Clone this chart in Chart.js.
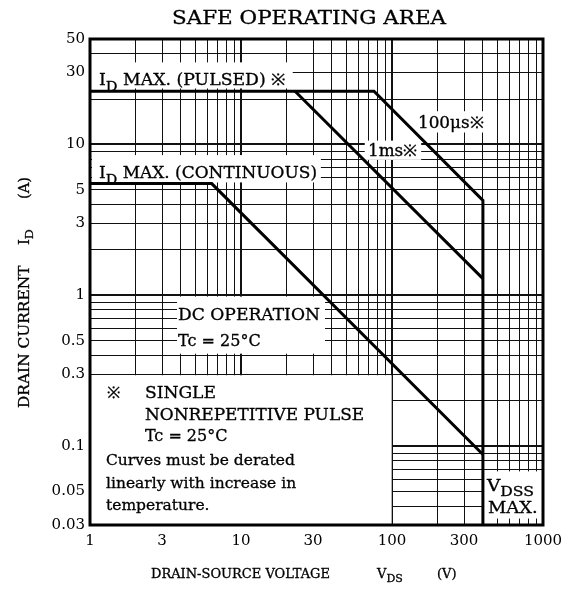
<!DOCTYPE html>
<html>
<head>
<meta charset="utf-8">
<script src="https://cdn.jsdelivr.net/npm/chart.js@4"></script>
<style>
  body { margin: 0; background: #fff; }
  canvas { display: block; }
</style>
</head>
<body>
<canvas id="soa" width="562" height="589"></canvas>
<script>
// safe operating area, log-log
const xTicks = [1, 3, 10, 30, 100, 300, 1000];
const yTicks = [0.03, 0.05, 0.1, 0.3, 0.5, 1, 3, 5, 10, 30, 50];

// 100us pulse (incl. ID max pulsed and VDSS max)
const pulseV = [1, 76, 400, 400];
const pulseI = [22.5, 22.5, 4.26, 0.03];
// 1ms pulse
const ms1V = [22.8, 400];
const ms1I = [22.5, 1.29];
// DC operation (incl. ID max continuous)
const dcV = [1, 6.4, 400];
const dcI = [5.5, 5.5, 0.088];

const FONT = '"DejaVu Serif", serif';

// white label boxes that blank the grid: [vMin, vMax, iMin, iMax]
const boxes = [
  [1, 22, 23.5, 35],
  [1.03, 33.8, 5.6, 8.5],
  [66, 156, 7.9, 10.6],
  [140, 426, 12, 16.6],
  [3.77, 36, 0.41, 0.98],
  [1, 99.5, 0.03, 0.295],
  [400, 1000, 0.0331, 0.068]
];

// label text: [v, i, parts, size, stretch] ; parts = [text, isSubscript]
const labels = [
  [1.147, 24.6, [['I', 0], ['D', 1], [' MAX. (PULSED) ※', 0]], 16, 1.08],
  [1.147, 5.95, [['I', 0], ['D', 1], [' MAX. (CONTINUOUS)', 0]], 16, 1.06],
  [148.6, 12.8, [['100μs※', 0]], 16, 1.05],
  [69.3, 8.33, [['1ms※', 0]], 16, 1.05],
  [3.83, 0.683, [['DC OPERATION', 0]], 16, 1.07],
  [3.83, 0.459, [['Tc = 25°C', 0]], 16, 1],
  [1.296, 0.208, [['※', 0]], 16, 1],
  [2.31, 0.208, [['SINGLE', 0]], 16, 1.07],
  [2.31, 0.1486, [['NONREPETITIVE PULSE', 0]], 16, 1.06],
  [2.31, 0.108, [['Tc = 25°C', 0]], 16, 1],
  [1.276, 0.0748, [['Curves must be derated', 0]], 15.5, 1],
  [1.276, 0.0527, [['linearly with increase in', 0]], 15.5, 1],
  [1.276, 0.0377, [['temperature.', 0]], 15.5, 1],
  [426, 0.0503, [['V', 0], ['DSS', 1]], 16, 1.15],
  [432, 0.036, [['MAX.', 0]], 16, 1.12]
];

function gridVals(lo, hi) {
  const out = [];
  for (let e = -3; e <= 4; e++) {
    for (let m = 1; m <= 9; m++) {
      const v = Number((m * Math.pow(10, e)).toPrecision(6));
      if (v >= lo - 1e-9 && v <= hi + 1e-9) out.push(v);
    }
  }
  return out;
}
const has = (arr, v) => arr.some(t => Math.abs(t - v) / t < 1e-6);
const isDecade = v => Math.abs(Math.log10(v) - Math.round(Math.log10(v))) < 1e-6;

function pts(xs, ys) { return xs.map((x, i) => ({ x: x, y: ys[i] })); }

// draw text pieces with subscripts, optional horizontal stretch
function richText(ctx, x, y, parts, size, stretch) {
  stretch = stretch || 1;
  ctx.save();
  ctx.translate(x, y);
  ctx.scale(stretch, 1);
  ctx.lineWidth = 0.3;
  ctx.strokeStyle = ctx.fillStyle;
  let cx = 0;
  parts.forEach(([t, sub]) => {
    ctx.font = (sub ? size * 0.85 : size) + 'px ' + FONT;
    const dy = sub ? size * 0.32 : 0;
    ctx.fillText(t, cx, dy);
    ctx.strokeText(t, cx, dy);
    cx += ctx.measureText(t).width;
  });
  ctx.restore();
}

const soaPlugin = {
  id: 'soa',
  beforeDatasetsDraw(chart) {
    const { ctx, scales: { x, y } } = chart;
    ctx.save();
    ctx.fillStyle = '#fff';
    boxes.forEach(([v0, v1, i0, i1]) => {
      const l = x.getPixelForValue(v0), r = x.getPixelForValue(v1);
      const t = y.getPixelForValue(i1), b = y.getPixelForValue(i0);
      ctx.fillRect(l, t, r - l, b - t);
    });
    ctx.fillStyle = '#000';
    ctx.textBaseline = 'alphabetic';
    ctx.textAlign = 'left';
    labels.forEach(([v, i, parts, size, st]) => {
      richText(ctx, x.getPixelForValue(v), y.getPixelForValue(i), parts, size, st);
    });
    ctx.restore();
  },
  afterDraw(chart) {
    const { ctx, chartArea: a } = chart;
    ctx.save();
    ctx.strokeStyle = '#000';
    ctx.lineWidth = 3;
    ctx.strokeRect(a.left, a.top, a.right - a.left, a.bottom - a.top);

    ctx.fillStyle = '#000';
    ctx.textBaseline = 'alphabetic';
    ctx.textAlign = 'left';
    richText(ctx, 172, 24, [['SAFE OPERATING AREA', 0]], 18.5, 1.16);

    richText(ctx, 151, 578, [['DRAIN-SOURCE VOLTAGE', 0]], 12.5, 1.04);
    richText(ctx, 377, 578, [['V', 0], ['DS', 1]], 12.5, 1.04);
    richText(ctx, 437, 578, [['(V)', 0]], 12.5, 1.04);

    ctx.translate(29, 0);
    ctx.rotate(-Math.PI / 2);
    richText(ctx, -408, 0, [['DRAIN CURRENT', 0]], 14, 1.1);
    richText(ctx, -245, 0, [['I', 0], ['D', 1]], 14, 1.05);
    richText(ctx, -199, 0, [['(A)', 0]], 14, 1.05);
    ctx.restore();
  }
};

function axis(lo, hi, shown, isX) {
  return {
    type: 'logarithmic',
    min: lo,
    max: hi,
    afterBuildTicks: s => { s.ticks = gridVals(lo, hi).map(v => ({ value: v })); },
    afterFit: s => {
      if (isX) { s.height = 64; s.paddingLeft = 0; s.paddingRight = 0; }
      else { s.width = 90; s.paddingTop = 0; s.paddingBottom = 0; }
    },
    ticks: {
      autoSkip: false,
      maxRotation: 0,
      color: '#000',
      padding: isX ? 7 : 5,
      font: { family: FONT, size: 15 },
      callback: v => has(shown, v) ? String(v) : ''
    },
    grid: {
      color: '#111',
      lineWidth: c => (c.tick && isDecade(c.tick.value)) ? 2 : 1,
      drawTicks: false
    },
    border: { display: false }
  };
}

const line = (data) => ({
  data: data, borderColor: '#000', borderWidth: 3, pointRadius: 0,
  tension: 0, fill: false, borderJoinStyle: 'miter', borderCapStyle: 'butt'
});

new Chart(document.getElementById('soa').getContext('2d'), {
  type: 'line',
  data: {
    datasets: [line(pts(pulseV, pulseI)), line(pts(ms1V, ms1I)), line(pts(dcV, dcI))]
  },
  options: {
    responsive: false,
    animation: false,
    layout: { padding: { top: 39, right: 19, left: 0, bottom: 0 } },
    plugins: { legend: { display: false }, tooltip: { enabled: false }, title: { display: false } },
    scales: { x: axis(1, 1000, xTicks, true), y: axis(0.03, 50, yTicks, false) }
  },
  plugins: [soaPlugin]
});
</script>
</body>
</html>
